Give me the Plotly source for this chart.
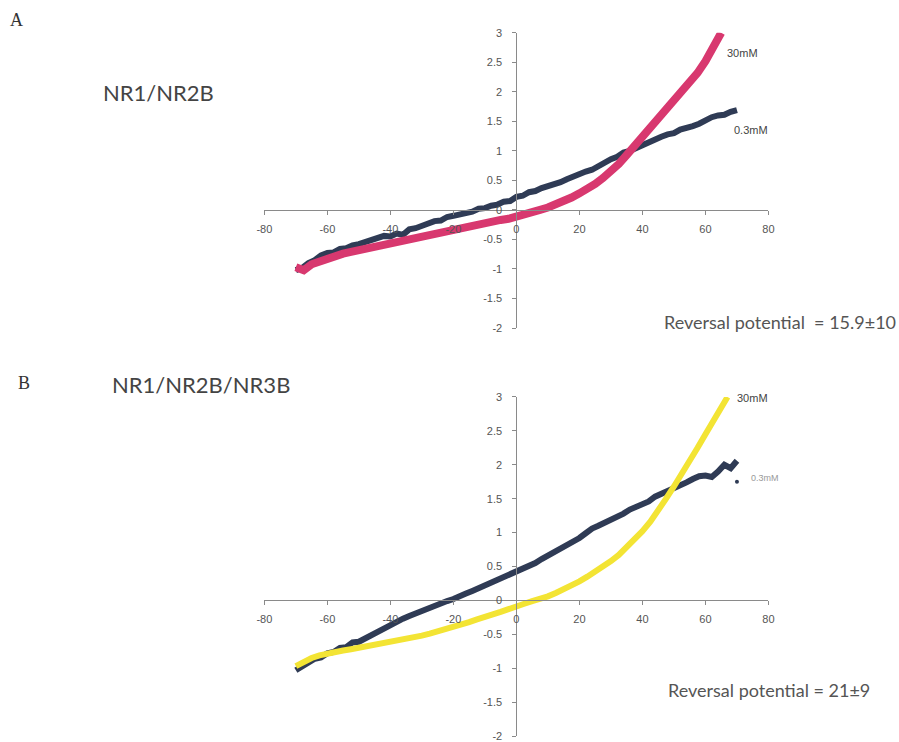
import plotly.graph_objects as go

# ---------------- data ----------------
# Panel A  (NR1/NR2B)
a_low_x = [-70, -68, -66, -64, -62, -60, -58, -56, -54, -52, -50, -48, -46, -44, -42, -40, -38, -36, -34, -32,
           -30, -28, -26, -24, -22, -20, -18, -16, -14, -12, -10, -8, -6, -4, -2, 0, 2, 4, 6, 8,
           10, 12, 14, 16, 18, 20, 22, 24, 26, 28, 30, 32, 34, 36, 38, 40, 42, 44, 46, 48,
           50, 52, 54, 56, 58, 60, 62, 64, 66, 68, 70]
a_low_y = [-1.02, -0.98, -0.90, -0.85, -0.77, -0.73, -0.72, -0.66, -0.65, -0.60, -0.58, -0.55, -0.50, -0.49, -0.44,
           -0.45, -0.40, -0.42, -0.33, -0.31, -0.27, -0.25, -0.19, -0.18, -0.12, -0.10, -0.08, -0.05, -0.03, 0.02,
           0.03, 0.07, 0.09, 0.14, 0.15, 0.22, 0.24, 0.30, 0.32, 0.37, 0.40, 0.43, 0.47, 0.52, 0.57,
           0.62, 0.65, 0.68, 0.74, 0.82, 0.86, 0.90, 0.97, 1.00, 1.05, 1.10, 1.16, 1.20, 1.24, 1.28,
           1.30, 1.36, 1.38, 1.42, 1.46, 1.52, 1.57, 1.60, 1.61, 1.66, 1.69]

a_high_x = [-70, -67.5, -65, -62.5, -60, -57.5, -55, -52.5, -50, -47.5, -45, -42.5, -40, -37.5, -35, -32.5,
            -30, -27.5, -25, -22.5, -20, -17.5, -15, -12.5, -10, -7.5, -5, -2.5, 0, 2.5, 5, 7.5,
            10, 12.5, 15, 17.5, 20, 22.5, 25, 27.5, 30, 32.5, 35, 37.5, 40, 42.5, 45, 47.5,
            50, 52.5, 55, 57.5, 60, 62.5, 65]
a_high_y = [-0.97, -1.02, -0.92, -0.87, -0.81, -0.78, -0.74, -0.71, -0.68, -0.65, -0.62, -0.59, -0.56, -0.53,
            -0.50, -0.47, -0.44, -0.41, -0.38, -0.36, -0.33, -0.30, -0.28, -0.25, -0.23, -0.20, -0.17, -0.15,
            -0.12, -0.08, -0.04, 0.00, 0.04, 0.09, 0.15, 0.21, 0.28, 0.35, 0.44, 0.54, 0.65, 0.78,
            0.93, 1.08, 1.24, 1.38, 1.53, 1.68, 1.84, 1.98, 2.14, 2.32, 2.52, 2.74, 3.00]

# Panel B  (NR1/NR2B/NR3B)
b_low_x = a_low_x
b_low_y = [-1.03, -0.97, -0.93, -0.86, -0.84, -0.78, -0.76, -0.70, -0.69, -0.62, -0.61, -0.56, -0.52, -0.46, -0.41,
           -0.35, -0.31, -0.27, -0.23, -0.19, -0.15, -0.12, -0.09, -0.05, -0.01, 0.02, 0.07, 0.10, 0.14, 0.18,
           0.22, 0.26, 0.30, 0.33, 0.37, 0.41, 0.45, 0.50, 0.55, 0.61, 0.66, 0.70, 0.75, 0.80, 0.86,
           0.92, 0.99, 1.06, 1.10, 1.14, 1.19, 1.22, 1.28, 1.34, 1.38, 1.42, 1.46, 1.53, 1.57, 1.60,
           1.64, 1.70, 1.74, 1.79, 1.83, 1.84, 1.82, 1.90, 2.00, 1.95, 2.06]
b_low_extra_x = [70]
b_low_extra_y = [1.75]

b_high_x = [-70, -67.5, -65, -62.5, -60, -57.5, -55, -52.5, -50, -47.5, -45, -42.5, -40, -37.5, -35, -32.5,
            -30, -27.5, -25, -22.5, -20, -17.5, -15, -12.5, -10, -7.5, -5, -2.5, 0, 2.5, 5, 7.5,
            10, 12.5, 15, 17.5, 20, 22.5, 25, 27.5, 30, 32.5, 35, 37.5, 40, 42.5, 45, 47.5,
            50, 52.5, 55, 57.5, 60, 62.5, 65, 67]
b_high_y = [-0.97, -0.90, -0.85, -0.81, -0.78, -0.76, -0.74, -0.72, -0.70, -0.68, -0.66, -0.64, -0.62, -0.60,
            -0.57, -0.55, -0.52, -0.49, -0.46, -0.42, -0.38, -0.35, -0.32, -0.28, -0.25, -0.21, -0.17, -0.13,
            -0.08, -0.05, -0.01, 0.02, 0.06, 0.11, 0.16, 0.22, 0.28, 0.35, 0.42, 0.50, 0.58, 0.67,
            0.78, 0.90, 1.02, 1.16, 1.32, 1.50, 1.68, 1.86, 2.05, 2.25, 2.45, 2.65, 2.85, 3.00]

x_ticks = [-80, -60, -40, -20, 0, 20, 40, 60, 80]
x_tick_text = ["-80", "-60", "-40", "-20", "0", "20", "40", "60", "80"]
y_ticks = [-2, -1.5, -1, -0.5, 0, 0.5, 1, 1.5, 2, 2.5, 3]
y_tick_text = ["-2", "-1.5", "-1", "-0.5", "0", "0.5", "1", "1.5", "2", "2.5", "3"]

# ---------------- styling ----------------
W, H = 899, 742
NAVY = "#2f3b55"
PINK = "#d8386f"
YELLOW = "#f3e434"
AX = "#8a8a8a"
TXT = "#444444"

def px(x):
    return min(max(x / W, 0), 1)

def py(y):
    return min(max(1 - y / H, 0), 1)

fig = go.Figure()
fig.add_trace(go.Scatter(x=a_low_x, y=a_low_y, mode="lines", line=dict(color=NAVY, width=6),
                         xaxis="x", yaxis="y", showlegend=False, hoverinfo="skip"))
fig.add_trace(go.Scatter(x=a_high_x, y=a_high_y, mode="lines", line=dict(color=PINK, width=8),
                         xaxis="x", yaxis="y", showlegend=False, hoverinfo="skip"))
fig.add_trace(go.Scatter(x=b_low_x, y=b_low_y, mode="lines", line=dict(color=NAVY, width=6),
                         xaxis="x2", yaxis="y2", showlegend=False, hoverinfo="skip"))
fig.add_trace(go.Scatter(x=b_low_extra_x, y=b_low_extra_y, mode="markers",
                         marker=dict(color=NAVY, size=4), xaxis="x2", yaxis="y2",
                         showlegend=False, hoverinfo="skip"))
fig.add_trace(go.Scatter(x=b_high_x, y=b_high_y, mode="lines", line=dict(color=YELLOW, width=6),
                         xaxis="x2", yaxis="y2", showlegend=False, hoverinfo="skip"))

tickfont = dict(family="Liberation Sans, Arial, sans-serif", size=11, color="#555555")
xdom = [px(260.4), px(772.5)]
yzero_x = px(516.4)

def xaxis_cfg(pos):
    return dict(domain=xdom, range=[-80, 80], anchor="free", position=pos,
                tickvals=x_ticks, ticktext=x_tick_text, ticks="outside", ticklen=4,
                tickcolor=AX, showline=True, linecolor=AX, linewidth=1,
                showgrid=False, zeroline=False, tickfont=tickfont, ticklabelstandoff=5,
                fixedrange=True)

def yaxis_cfg(dom):
    return dict(domain=dom, range=[-2, 3], anchor="free", position=yzero_x,
                tickvals=y_ticks, ticktext=y_tick_text, ticks="outside", ticklen=4,
                tickcolor=AX, showline=True, linecolor=AX, linewidth=1,
                showgrid=False, zeroline=False, tickfont=tickfont, ticklabelstandoff=8,
                fixedrange=True)

fig.update_layout(
    width=W, height=H,
    margin=dict(l=0, r=0, t=0, b=0),
    paper_bgcolor="white", plot_bgcolor="rgba(0,0,0,0)",
    xaxis=xaxis_cfg(py(207.2)),
    yaxis=yaxis_cfg([py(327.3), py(27.2)]),
    xaxis2=xaxis_cfg(py(604.0)),
    yaxis2=yaxis_cfg([py(742), py(397.4)]),
    hovermode=False,
)

def ann(text, x, y, size, family, color=TXT, xanchor="center"):
    fig.add_annotation(text=text, x=px(x), y=py(y), xref="paper", yref="paper",
                       xanchor=xanchor, yanchor="middle", showarrow=False,
                       font=dict(size=size, family=family, color=color))

SERIF = "Liberation Serif, Times New Roman, serif"
CAL = "Lato, Open Sans, sans-serif"
ARIAL = "Liberation Sans, Arial, sans-serif"

ann("A", 9, 14, 18, SERIF, "#333333")
ann("NR1/NR2B", 153, 88, 22, CAL)
ann("B", 16, 383, 18, SERIF, "#333333")
ann("NR1/NR2B/NR3B", 196, 385, 22, CAL)
ann("30mM", 746, 48, 11, ARIAL)
ann("0.3mM", 755, 126, 11, ARIAL)
ann("Reversal potential  = 15.9±10", 664, 321, 18, CAL, "#555555", "left")
ann("30mM", 756, 398, 11, ARIAL)
ann("0.3mM", 769, 480, 9, ARIAL, "#999999")
ann("Reversal potential = 21±9", 668, 695, 18, CAL, "#555555", "left")

fig.write_html(
    "out.html",
    config={"displayModeBar": False, "staticPlot": True},
    post_script=("document.documentElement.style.margin='0';"
                 "document.documentElement.style.overflow='hidden';"
                 "document.body.style.margin='0';document.body.style.padding='0';"
                 "document.body.style.overflow='hidden';"),
)
